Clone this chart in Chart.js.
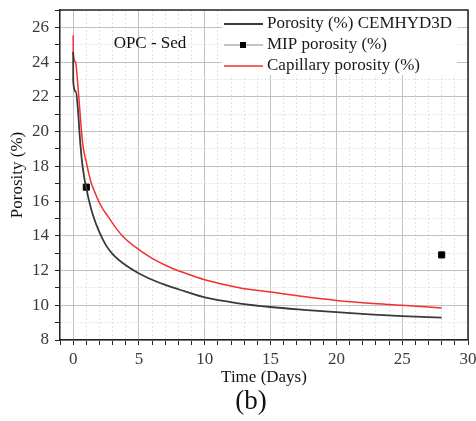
<!DOCTYPE html>
<html>
<head>
<meta charset="utf-8">
<script src="https://cdn.jsdelivr.net/npm/chart.js@4/dist/chart.umd.min.js"></script>
<style>
  html, body { margin: 0; padding: 0; background: #ffffff; }
  canvas { display: block; }
</style>
</head>
<body>
<canvas id="chart" width="476" height="421"></canvas>
<script>
// CEMHYD3D simulated porosity (time in days, porosity %)
const cemTime = [0, 0.005, 0.2, 0.38, 0.5, 0.64, 0.84, 1.0, 1.15, 1.5, 2.0, 2.5, 3.0, 4.0, 5.0, 6.0, 7.0, 8.5, 10, 12.7, 15, 17.5, 20, 22.5, 25, 28];
const cemPorosity = [24.6, 22.9, 22.3, 21.1, 19.75, 18.5, 17.35, 16.75, 16.2, 15.2, 14.2, 13.45, 12.95, 12.3, 11.83, 11.47, 11.17, 10.8, 10.45, 10.1, 9.9, 9.74, 9.6, 9.48, 9.38, 9.29];

// capillary porosity
const capTime = [0, 0.01, 0.18, 0.33, 0.51, 0.6, 0.76, 1.01, 1.2, 1.39, 1.65, 1.9, 2.25, 2.66, 3.2, 3.8, 5.0, 6.0, 7.3, 8.5, 10, 12.7, 15, 17.5, 20, 22.5, 25, 28];
const capPorosity = [25.55, 24.5, 24.0, 22.9, 21.2, 20.3, 19.1, 18.2, 17.55, 17.0, 16.5, 16.05, 15.55, 15.1, 14.5, 13.95, 13.2, 12.7, 12.2, 11.85, 11.47, 11.0, 10.76, 10.5, 10.28, 10.12, 10.0, 9.84];

// MIP measurements
const mipTime = [1, 28];
const mipPorosity = [16.8, 12.9];

const seriesLabels = ["Porosity (%) CEMHYD3D", "MIP porosity (%)", "Capillary porosity (%)"];
const xTickLabels = [0, 5, 10, 15, 20, 25, 30];
const yTickLabels = [8, 10, 12, 14, 16, 18, 20, 22, 24, 26];

const toPoints = (xs, ys) => xs.map((x, i) => ({ x: x, y: ys[i] }));

const serif = "'Liberation Serif', 'DejaVu Serif', serif";

function isMajor(ctx, labels) {
  return ctx.tick && labels.includes(ctx.tick.value);
}

// legend inside the plot, top right, on a white patch
const insideLegend = {
  id: "insideLegend",
  afterDatasetsDraw(chart) {
    const ctx = chart.ctx;
    const area = chart.chartArea;
    ctx.save();
    ctx.fillStyle = "#ffffff";
    ctx.fillRect(222, area.top + 1, 235, 64);

    const rows = [24, 45, 66];
    ctx.font = "17px " + serif;
    ctx.textBaseline = "middle";
    ctx.fillStyle = "#1a1a1a";
    chart.data.datasets.forEach((ds, i) => {
      const y = rows[i];
      ctx.strokeStyle = ds.legendLine;
      ctx.lineWidth = ds.legendWidth;
      ctx.beginPath();
      ctx.moveTo(224, y);
      ctx.lineTo(263, y);
      ctx.stroke();
      if (ds.showLine === false) {
        ctx.fillStyle = "#000000";
        ctx.fillRect(240, y - 3, 6, 6);
        ctx.fillStyle = "#1a1a1a";
      }
      ctx.fillText(ds.label, 267, y);
    });
    ctx.restore();
  },
  afterDraw(chart) {
    const ctx = chart.ctx;
    const a = chart.chartArea;
    ctx.save();
    ctx.strokeStyle = "#222222";
    ctx.lineWidth = 1.5;
    ctx.beginPath();
    ctx.moveTo(a.left, a.top);
    ctx.lineTo(a.right, a.top);
    ctx.lineTo(a.right, a.bottom);
    ctx.stroke();

    ctx.fillStyle = "#111111";
    ctx.font = "17px " + serif;
    ctx.textAlign = "center";
    ctx.textBaseline = "middle";
    ctx.fillText("OPC - Sed", 150, 44);

    ctx.font = "27px " + serif;
    ctx.fillText("(b)", 251, 402);
    ctx.restore();
  }
};

new Chart(document.getElementById("chart"), {
  type: "scatter",
  data: {
    datasets: [
      {
        label: seriesLabels[0],
        data: toPoints(cemTime, cemPorosity),
        showLine: true,
        borderColor: "#3a3a3a",
        borderWidth: 1.8,
        pointRadius: 0,
        cubicInterpolationMode: "monotone",
        legendLine: "#3a3a3a",
        legendWidth: 2
      },
      {
        label: seriesLabels[1],
        data: toPoints(mipTime, mipPorosity),
        showLine: false,
        backgroundColor: "#000000",
        borderColor: "#000000",
        pointStyle: "rect",
        pointRadius: 4.3,
        legendLine: "#8a8a8a",
        legendWidth: 1
      },
      {
        label: seriesLabels[2],
        data: toPoints(capTime, capPorosity),
        showLine: true,
        borderColor: "#f23030",
        borderWidth: 1.5,
        pointRadius: 0,
        cubicInterpolationMode: "monotone",
        legendLine: "#f23030",
        legendWidth: 1.5
      }
    ]
  },
  options: {
    responsive: false,
    animation: false,
    devicePixelRatio: 1,
    layout: { padding: { top: 10, right: 8, left: 0, bottom: 0 } },
    plugins: {
      legend: { display: false },
      tooltip: { enabled: false }
    },
    scales: {
      x: {
        type: "linear",
        min: -1,
        max: 30,
        afterFit(scale) {
          scale.height = 81;
          scale.paddingLeft = 0;
          scale.paddingRight = 0;
        },
        ticks: {
          stepSize: 1,
          autoSkip: false,
          maxRotation: 0,
          padding: 4,
          color: "#3a3a3a",
          font: { family: serif, size: 17 },
          callback: (v) => (xTickLabels.includes(v) ? String(v) : "")
        },
        grid: {
          color: (ctx) => (isMajor(ctx, xTickLabels) ? "#c2c2c2" : "#e2e2e2"),
          lineWidth: 1,
          tickColor: "#222222",
          tickLength: 5
        },
        border: {
          color: "#222222",
          width: 1.5,
          dash: (ctx) => (ctx.tick && !xTickLabels.includes(ctx.tick.value) ? [2, 2] : [])
        },
        title: {
          display: true,
          text: "Time (Days)",
          color: "#111111",
          font: { family: serif, size: 17 },
          padding: { top: 0, bottom: 33 }
        }
      },
      y: {
        type: "linear",
        min: 8,
        max: 27,
        afterFit(scale) {
          scale.width = 60;
          scale.paddingTop = 0;
          scale.paddingBottom = 0;
        },
        ticks: {
          stepSize: 1,
          autoSkip: false,
          padding: 6,
          color: "#3a3a3a",
          font: { family: serif, size: 17 },
          callback: (v) => (yTickLabels.includes(v) ? String(v) : "")
        },
        grid: {
          color: (ctx) => (isMajor(ctx, yTickLabels) ? "#c2c2c2" : "#e2e2e2"),
          lineWidth: 1,
          tickColor: "#222222",
          tickLength: 5
        },
        border: {
          color: "#222222",
          width: 1.5,
          dash: (ctx) => (ctx.tick && !yTickLabels.includes(ctx.tick.value) ? [2, 2] : [])
        },
        title: {
          display: true,
          text: "Porosity (%)",
          color: "#111111",
          font: { family: serif, size: 17 },
          padding: { top: 7, bottom: 0 }
        }
      }
    }
  },
  plugins: [insideLegend]
});
</script>
</body>
</html>
